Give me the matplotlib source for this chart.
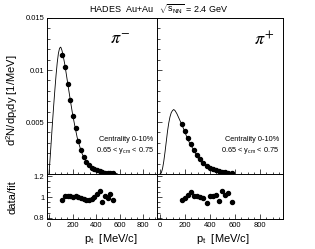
import matplotlib
matplotlib.use("Agg")
import matplotlib.pyplot as plt
from matplotlib.ticker import MultipleLocator, FixedLocator, FixedFormatter

plt.rcParams["font.family"] = ["Liberation Sans", "DejaVu Sans"]
plt.rcParams["mathtext.fontset"] = "custom"
plt.rcParams["mathtext.rm"] = "Liberation Sans"
plt.rcParams["mathtext.it"] = "Liberation Sans"

# pi- spectrum (left panel)
pim_pt = [112, 135, 158, 181, 204, 227, 249, 272, 295, 318,
          341, 363, 386, 409, 432, 455, 477, 500, 523, 546]
pim_yield = [0.0114, 0.0103, 0.0087, 0.0071, 0.0056, 0.0044, 0.0032, 0.0023, 0.0016, 0.0012,
             0.00082, 0.00062, 0.00046, 0.00036, 0.00027, 0.00018, 0.00014, 0.0001, 0.00008, 0.00005]
pim_ratio = [0.97, 1.01, 1.01, 1.01, 1.00, 1.01, 1.00, 0.99, 0.98, 0.97,
             0.97, 0.98, 1.00, 1.03, 1.06, 0.95, 1.01, 0.99, 1.03, 0.97]
pim_fit_pt = [0, 10, 20, 30, 40, 50, 60, 70, 80, 90, 100, 110, 120, 135, 150, 165, 180,
              200, 220, 240, 260, 280, 300, 325, 350, 375, 400, 430, 460, 490, 520, 550, 580]
pim_fit = [0, 0.0016, 0.0033, 0.0050, 0.0066, 0.0081, 0.0095, 0.0107, 0.0116, 0.0121, 0.0122,
           0.0119, 0.0114, 0.0105, 0.0094, 0.0083, 0.0072, 0.0058, 0.0046, 0.0035, 0.0027,
           0.0020, 0.0015, 0.0011, 0.00075, 0.00052, 0.00037, 0.00025, 0.00017, 0.00011,
           0.00008, 0.00005, 0.00004]

# pi+ spectrum (right panel)
pip_pt = [172, 197, 222, 247, 272, 297, 322, 347, 372, 397, 422, 447, 472, 497, 522, 547, 572]
pip_yield = [0.0048, 0.0041, 0.0035, 0.0029, 0.0023, 0.0018, 0.0014, 0.00103, 0.00075, 0.00060,
             0.00047, 0.00036, 0.00025, 0.00020, 0.00015, 0.00012, 0.00008]
pip_ratio = [0.97, 0.99, 1.02, 1.05, 1.01, 1.01, 1.00, 0.99, 0.94, 1.01,
             1.01, 1.02, 0.96, 1.06, 1.02, 1.04, 0.95]
pip_fit_pt = [0, 10, 20, 30, 40, 50, 60, 70, 80, 90, 100, 110, 120, 135, 150, 165, 180,
              200, 220, 240, 260, 280, 300, 325, 350, 375, 400, 430, 460, 490, 520, 550, 590]
pip_fit = [0, 0.0001, 0.0005, 0.0012, 0.0021, 0.0031, 0.0041, 0.0049, 0.0055, 0.0059, 0.0061,
           0.0062, 0.0061, 0.0058, 0.0054, 0.0050, 0.0046, 0.0040, 0.0034, 0.0029, 0.0025,
           0.0021, 0.0016, 0.0012, 0.0009, 0.00068, 0.0005, 0.00036, 0.00026, 0.00018,
           0.00013, 0.0001, 0.00007]

W, H = 315, 249
fig = plt.figure(figsize=(W / 100, H / 100), dpi=100)


def box(x0, x1, y0, y1):
    return [x0 / W, 1 - y1 / H, (x1 - x0) / W, (y1 - y0) / H]


def style(ax):
    for s in ax.spines.values():
        s.set_linewidth(0.7)
    ax.tick_params(which="both", direction="in", width=0.5, labelsize=5.5, pad=2,
                   left=True, right=False, top=False)
    ax.tick_params(which="major", length=3.5)
    ax.tick_params(which="minor", length=1.8)


panels = [
    ((47, 157), (-17, 919), pim_pt, pim_yield, pim_ratio, pim_fit_pt, pim_fit,
     r"$\pi^{-}$", 0.57, 0.58, True),
    ((157, 283), (-24, 984), pip_pt, pip_yield, pip_ratio, pip_fit_pt, pip_fit,
     r"$\pi^{+}$", 0.77, 0.52, False),
]

for (x0, x1), xlim, pt, yld, ratio, fpt, fval, name, name_x, lab_x, first in panels:
    top = fig.add_axes(box(x0, x1, 18, 174))
    top.plot(fpt, fval, color="black", lw=0.6)
    top.plot(pt, yld, "o", color="black", ms=2.9)
    top.set_xlim(*xlim)
    top.set_ylim(0, 0.015)
    top.xaxis.set_major_locator(MultipleLocator(200))
    top.xaxis.set_minor_locator(MultipleLocator(50))
    top.yaxis.set_major_locator(FixedLocator([0, 0.005, 0.01, 0.015]))
    top.yaxis.set_minor_locator(MultipleLocator(0.001))
    top.yaxis.set_major_formatter(FixedFormatter(["", "0.005", "0.01", "0.015"]))
    top.set_xticklabels([])
    style(top)
    if not first:
        top.set_yticklabels([])
    top.text(name_x, 0.86, name, transform=top.transAxes, fontsize=13,
             math_fontfamily="stix", ha="left", va="center")
    top.text(0.97, 0.22, "Centrality 0-10%", transform=top.transAxes,
             fontsize=5.3, ha="right", va="center")
    top.text(0.97, 0.15, r"0.65 < y$_{\rm cm}$ < 0.75", transform=top.transAxes,
             fontsize=5.3, ha="right", va="center")

    low = fig.add_axes(box(x0, x1, 174, 219))
    low.plot(pt, ratio, "o", color="black", ms=2.9)
    low.set_xlim(*xlim)
    low.set_ylim(0.79, 1.22)
    low.xaxis.set_major_locator(MultipleLocator(200))
    low.xaxis.set_minor_locator(MultipleLocator(50))
    low.yaxis.set_major_locator(FixedLocator([0.8, 1.0, 1.2]))
    low.yaxis.set_minor_locator(MultipleLocator(0.05))
    low.yaxis.set_major_formatter(FixedFormatter(["0.8", "1", "1.2"]))
    style(low)
    if not first:
        low.set_yticklabels([])
    low.set_xlabel(r"p$_{\rm t}$  [MeV/c]", fontsize=8, labelpad=1)
    low.xaxis.set_label_coords(lab_x, -0.28)

fig.text(12 / W, 1 - 100 / H, r"d$^2$N/dp$_{\rm t}$dy [1/MeV]", rotation=90,
         fontsize=8, ha="center", va="center")
fig.text(12 / W, 1 - 197 / H, "data/fit", rotation=90, fontsize=8, ha="center", va="center")
fig.text(89 / W, 1 - 9 / H, r"HADES  Au+Au   $\sqrt{s_{\rm NN}}$ = 2.4 GeV",
         fontsize=6.5, ha="left", va="center")

fig.savefig("out.png", dpi=100)
